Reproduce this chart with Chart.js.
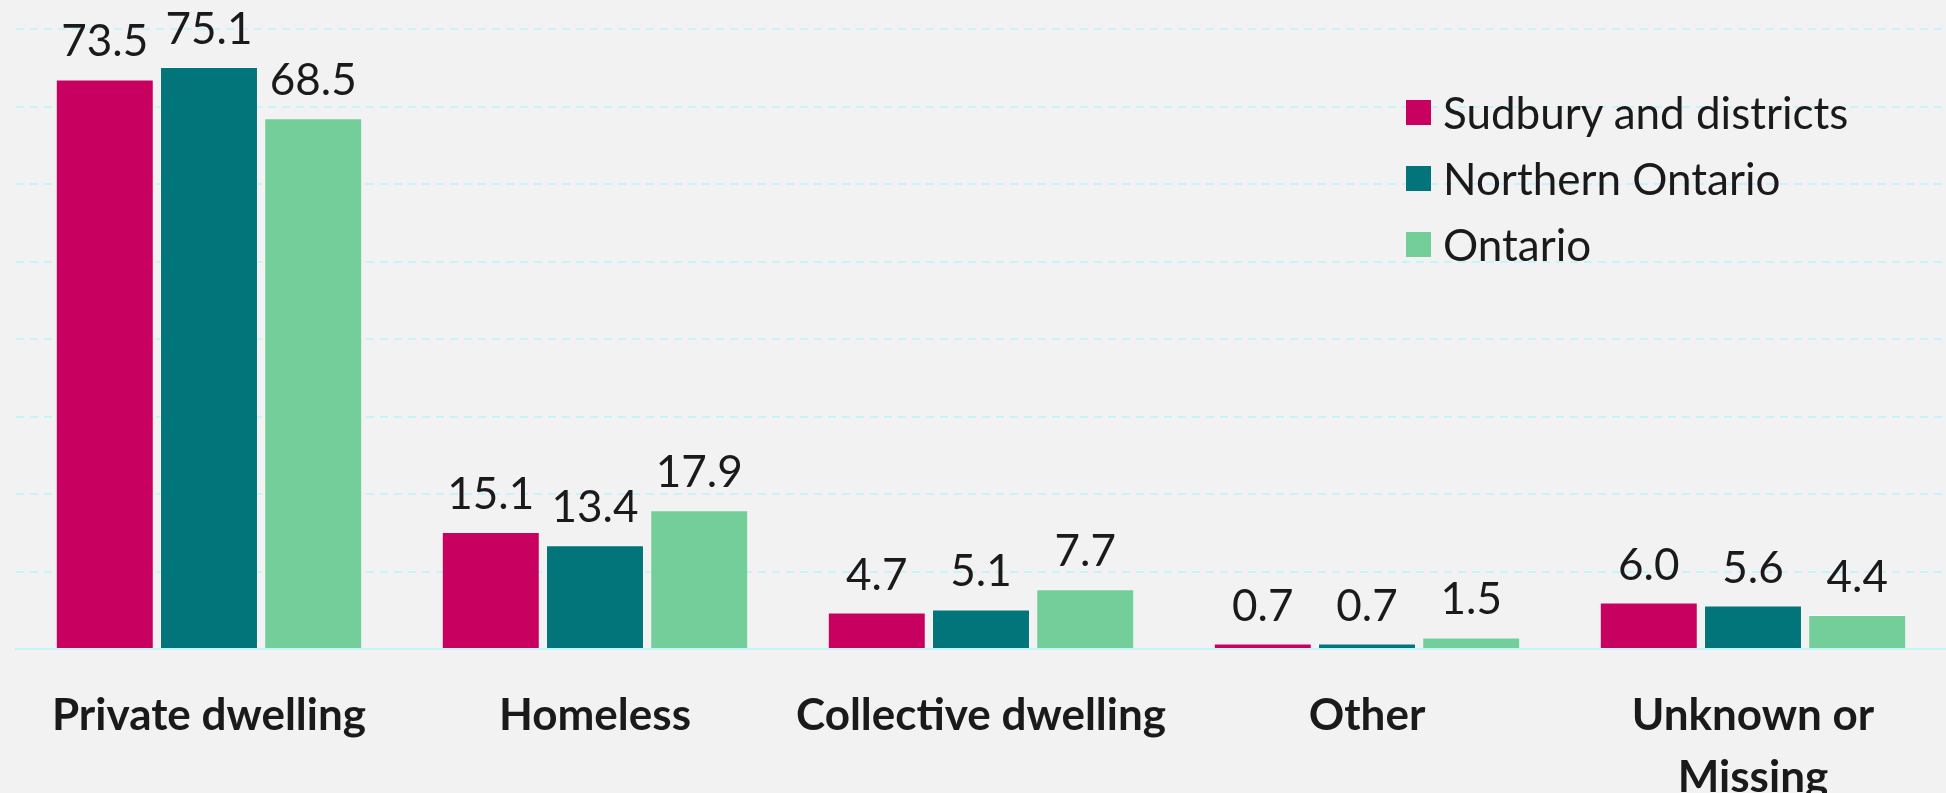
<!DOCTYPE html>
<html>
<head>
<meta charset="utf-8">
<script src="https://cdn.jsdelivr.net/npm/chart.js@4"></script>
<style>
  html, body { margin: 0; padding: 0; background: #f2f2f2; }
  #wrap { position: relative; width: 1946px; height: 793px; }
  #legend { position: absolute; left: 1406px; top: 79px; font-family: Lato, Calibri, Carlito, sans-serif; font-size: 44px; color: #1a1a1a; }
  .row { display: flex; align-items: center; height: 66px; }
  .sw { width: 25px; height: 25px; margin-right: 12px; }
</style>
</head>
<body>
<div id="wrap">
  <canvas id="chart" width="1946" height="793"></canvas>
  <div id="legend"></div>
</div>
<script>
// --- DONNEES ---
const categories = ['Private dwelling', 'Homeless', 'Collective dwelling', 'Other', ['Unknown or', 'Missing']];
const seriesNames = ['Sudbury and districts', 'Northern Ontario', 'Ontario'];
const sudbury = [73.5, 15.1, 4.7, 0.7, 6.0];
const northern = [75.1, 13.4, 5.1, 0.7, 5.6];
const ontario = [68.5, 17.9, 7.7, 1.5, 4.4];
const colors = ['#c8005f', '#02757a', '#73ce9a'];

const FONT = 'Lato, Calibri, Carlito, sans-serif';

// --- LEGENDE HTML ---
const legend = document.getElementById('legend');
seriesNames.forEach((name, i) => {
    legend.innerHTML += `<div class="row"><div class="sw" style="background:${colors[i]}"></div><span>${name}</span></div>`;
});

// --- ETIQUETTES DE VALEURS ---
const valueLabels = {
    id: 'valueLabels',
    afterDatasetsDraw(chart) {
        const ctx = chart.ctx;
        ctx.save();
        ctx.font = '44px ' + FONT;
        ctx.fillStyle = '#1a1a1a';
        ctx.textAlign = 'center';
        ctx.textBaseline = 'alphabetic';
        chart.data.datasets.forEach((ds, i) => {
            chart.getDatasetMeta(i).data.forEach((bar, j) => {
                ctx.fillText(ds.data[j].toFixed(1), bar.x, bar.y - 23);
            });
        });
        ctx.restore();
    }
};

const ctx = document.getElementById('chart').getContext('2d');
new Chart(ctx, {
    type: 'bar',
    data: {
        labels: categories,
        datasets: [sudbury, northern, ontario].map((d, i) => ({
            label: seriesNames[i],
            data: d,
            backgroundColor: colors[i],
            borderColor: 'rgba(255,255,255,0.35)',
            borderWidth: 1,
            categoryPercentage: 0.81,
            barPercentage: 0.94
        }))
    },
    options: {
        responsive: false,
        animation: false,
        layout: { padding: { left: 16, top: 29, right: 0, bottom: 0 } },
        plugins: {
            legend: { display: false },
            tooltip: { enabled: false }
        },
        scales: {
            x: {
                grid: { display: false },
                border: { display: true, color: '#c2f5fa', width: 2 },
                ticks: {
                    color: '#1a1a1a',
                    font: { family: FONT, size: 44, weight: 'bold', lineHeight: 1.4 },
                    padding: 28,
                    maxRotation: 0
                },
                afterFit(scale) { scale.height = 144; }
            },
            y: {
                min: 0,
                max: 80,
                ticks: { display: false, stepSize: 10 },
                grid: { color: '#c6f4fa', lineWidth: 2, drawTicks: false },
                border: { display: false, dash: [8, 6] },
                afterFit(scale) { scale.width = 0; }
            }
        }
    },
    plugins: [valueLabels]
});
</script>
</body>
</html>
